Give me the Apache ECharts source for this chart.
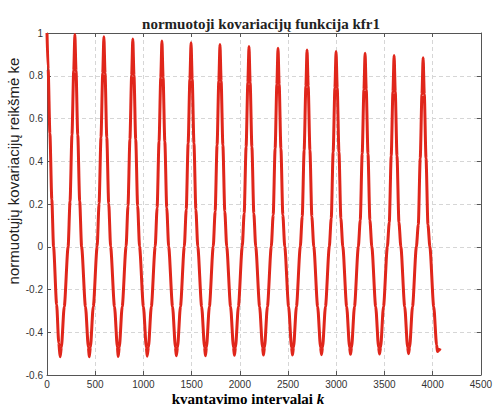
<!DOCTYPE html>
<html>
<head>
<meta charset="utf-8">
<script src="https://cdn.jsdelivr.net/npm/echarts@6/dist/echarts.min.js"></script>
<style>
  html, body { margin: 0; padding: 0; background: #fff; }
  #chart { width: 495px; height: 407px; }
</style>
</head>
<body>
<div id="chart"></div>
<script>
// kvantavimo intervalai k (lag) ir normuotosios kovariacijos reikšmės, nuskaitytos nuo paveikslo
const lagK = [
  0, 12, 30, 50, 68, 100, 122, 136,
  149, 179, 219, 239, 259, 277, 289, 301, 319, 339, 359, 399, 429, 438,
  450, 480, 520, 540, 560, 578, 590, 602, 620, 640, 660, 700, 730, 738,
  750, 780, 820, 840, 860, 878, 890, 902, 920, 940, 960, 1000, 1030, 1039,
  1052, 1082, 1122, 1142, 1162, 1180, 1192, 1204, 1222, 1242, 1262, 1302, 1332, 1341,
  1354, 1384, 1424, 1444, 1464, 1482, 1494, 1506, 1524, 1544, 1564, 1604, 1634, 1643,
  1654, 1684, 1724, 1744, 1764, 1782, 1794, 1806, 1824, 1844, 1864, 1904, 1934, 1944,
  1955, 1985, 2025, 2045, 2065, 2083, 2095, 2107, 2125, 2145, 2165, 2205, 2235, 2245,
  2256, 2286, 2326, 2346, 2366, 2384, 2396, 2408, 2426, 2446, 2466, 2506, 2536, 2546,
  2557, 2587, 2627, 2647, 2667, 2685, 2697, 2709, 2727, 2747, 2767, 2807, 2837, 2847,
  2858, 2888, 2928, 2948, 2968, 2986, 2998, 3010, 3028, 3048, 3068, 3108, 3138, 3148,
  3159, 3189, 3229, 3249, 3269, 3287, 3299, 3311, 3329, 3349, 3369, 3409, 3439, 3449,
  3460, 3490, 3530, 3550, 3570, 3588, 3600, 3612, 3630, 3650, 3670, 3710, 3740, 3750,
  3761, 3791, 3831, 3851, 3871, 3889, 3901, 3913, 3931, 3951, 3971, 4011, 4041, 4050, 4065, 4078
]
const kfr1 = [
  1.0, 0.83, 0.53, 0.22, 0.0, -0.27, -0.45, -0.515,
  -0.47, -0.28, 0.0, 0.213, 0.523, 0.823, 0.993, 0.823, 0.523, 0.213, 0.0, -0.28, -0.47, -0.515,
  -0.47, -0.28, 0.0, 0.202, 0.512, 0.812, 0.982, 0.812, 0.512, 0.202, 0.0, -0.28, -0.47, -0.513,
  -0.47, -0.28, 0.0, 0.192, 0.502, 0.802, 0.972, 0.802, 0.502, 0.192, 0.0, -0.28, -0.47, -0.512,
  -0.47, -0.28, 0.0, 0.182, 0.492, 0.792, 0.962, 0.792, 0.492, 0.182, 0.0, -0.28, -0.47, -0.51,
  -0.47, -0.28, 0.0, 0.174, 0.484, 0.784, 0.954, 0.784, 0.484, 0.174, 0.0, -0.28, -0.47, -0.51,
  -0.47, -0.28, 0.0, 0.166, 0.476, 0.776, 0.946, 0.776, 0.476, 0.166, 0.0, -0.28, -0.47, -0.508,
  -0.47, -0.28, 0.0, 0.157, 0.467, 0.767, 0.937, 0.767, 0.467, 0.157, 0.0, -0.28, -0.47, -0.507,
  -0.47, -0.28, 0.0, 0.149, 0.459, 0.759, 0.929, 0.759, 0.459, 0.149, 0.0, -0.28, -0.47, -0.506,
  -0.47, -0.28, 0.0, 0.141, 0.451, 0.751, 0.921, 0.751, 0.451, 0.141, 0.0, -0.28, -0.47, -0.505,
  -0.47, -0.28, 0.0, 0.133, 0.443, 0.743, 0.913, 0.743, 0.443, 0.133, 0.0, -0.28, -0.47, -0.503,
  -0.47, -0.28, 0.0, 0.125, 0.435, 0.735, 0.905, 0.735, 0.435, 0.125, 0.0, -0.28, -0.47, -0.502,
  -0.47, -0.28, 0.0, 0.115, 0.425, 0.725, 0.895, 0.725, 0.425, 0.115, 0.0, -0.28, -0.47, -0.50,
  -0.47, -0.28, 0.0, 0.104, 0.414, 0.714, 0.884, 0.714, 0.414, 0.104, 0.0, -0.28, -0.46, -0.49, -0.485, -0.475
]

const chart = echarts.init(document.getElementById('chart'), null, { renderer: 'svg' })

const tickFont = { fontFamily: 'Liberation Sans', fontSize: 10, color: '#333' }
const frameLine = { show: true, onZero: false, lineStyle: { color: '#555', width: 1 } }
const gridLine = { show: true, lineStyle: { color: '#d6d6d6', type: [4, 3], width: 1 } }
const inTick = { show: true, inside: true, length: 4, lineStyle: { color: '#555' } }

const option = {
  backgroundColor: '#fff',
  animation: false,
  title: {
    text: 'normuotoji kovariacijų funkcija kfr1',
    left: 256,
    top: 11,
    textAlign: 'center',
    textStyle: { fontFamily: 'Liberation Serif', fontSize: 15, fontWeight: 'bold', color: '#222' }
  },
  grid: { left: 47, right: 12, top: 33, bottom: 32 },
  xAxis: [
    {
      type: 'value', min: 0, max: 4500, interval: 500,
      axisLine: frameLine, axisTick: inTick, splitLine: gridLine,
      axisLabel: Object.assign({ margin: 4, formatter: (v) => String(v) }, tickFont)
    },
    {
      type: 'value', position: 'top', min: 0, max: 4500, interval: 500,
      axisLine: frameLine, axisTick: inTick, splitLine: { show: false },
      axisLabel: { show: false }
    }
  ],
  yAxis: [
    {
      type: 'value', min: -0.6, max: 1, interval: 0.2,
      axisLine: frameLine, axisTick: inTick, splitLine: gridLine,
      axisLabel: Object.assign({
        margin: 4,
        formatter: (v) => String(Math.round(v * 10) / 10)
      }, tickFont)
    },
    {
      type: 'value', position: 'right', min: -0.6, max: 1, interval: 0.2,
      axisLine: frameLine, axisTick: inTick, splitLine: { show: false },
      axisLabel: { show: false }
    }
  ],
  graphic: [
    {
      type: 'text', x: 13, y: 171, rotation: Math.PI / 2,
      style: {
        text: 'normuotųjų kovariacijų reikšmė ke',
        fontFamily: 'Liberation Sans', fontSize: 15, fill: '#222',
        textAlign: 'center', textVerticalAlign: 'middle'
      }
    },
    {
      type: 'text', x: 248, y: 399,
      style: {
        rich: {
          a: { fontFamily: 'Liberation Serif', fontSize: 15, fontWeight: 'bold', color: '#222' },
          i: { fontFamily: 'Liberation Serif', fontSize: 15, fontWeight: 'bold', fontStyle: 'italic', color: '#222' }
        },
        text: '{a|kvantavimo intervalai }{i|k}',
        textAlign: 'center', textVerticalAlign: 'middle'
      }
    }
  ],
  series: [
    {
      name: 'kfr1',
      type: 'line',
      xAxisIndex: 0,
      yAxisIndex: 0,
      showSymbol: false,
      smooth: 0.25,
      smoothMonotone: 'x',
      lineStyle: { color: '#e0261b', width: 3 },
      data: lagK.map((k, i) => [k, kfr1[i]])
    }
  ]
}

chart.setOption(option)
</script>
</body>
</html>
